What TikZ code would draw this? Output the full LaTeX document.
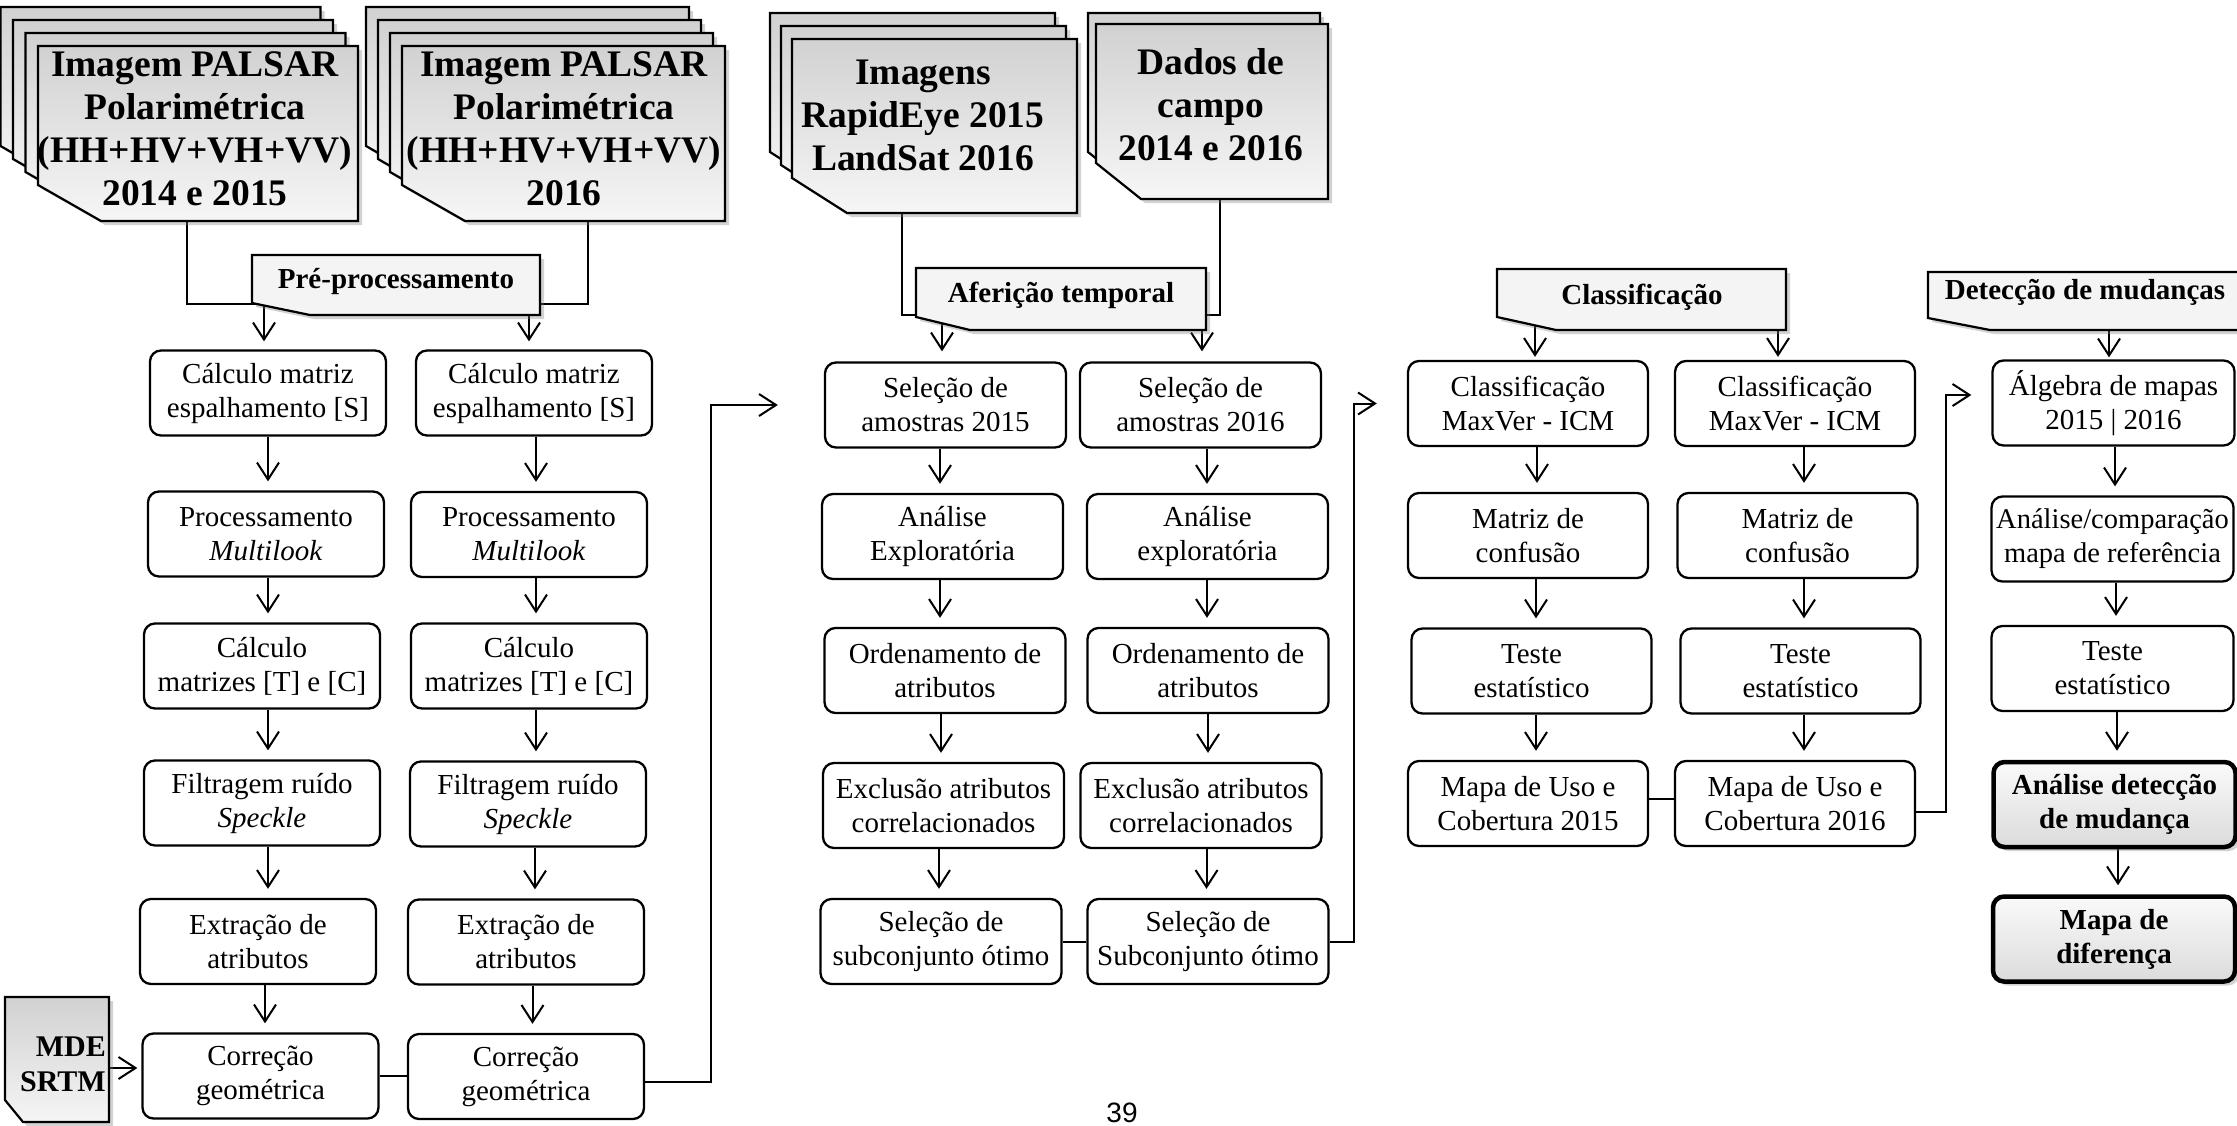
\documentclass[tikz,border=0pt]{standalone}
\usepackage{fontspec}
\setmainfont{Liberation Serif}
\newfontfamily\arialf{Liberation Sans}
\usetikzlibrary{arrows.meta,shadows}
\pgfdeclarelayer{background}
\pgfsetlayers{background,main}
\newcommand{\fReg}{\fontsize{29}{34}\selectfont}
\newcommand{\fHdr}{\fontsize{29}{34}\selectfont\bfseries}
\newcommand{\fBig}{\fontsize{37.5}{43}\selectfont\bfseries}
\newcommand{\fMde}{\fontsize{30}{35}\selectfont\bfseries}
\newcommand{\fPg}{\arialf\fontsize{28}{28}\selectfont}
% card shape: x1,y1,x2,y2,cut width,cut height,style
\newcommand{\card}[7]{\path[#7] (#1,#2) -- (#3,#2) -- (#3,#4) -- ({#1+#5},#4) -- (#1,{#4-#6}) -- cycle;}
\tikzset{
  shd/.style={drop shadow={shadow xshift=4pt, shadow yshift=-4pt, opacity=0.35}},
  sheet/.style={draw, line width=2.2pt, top color=gray!36, bottom color=gray!7, shd},
  hdr/.style={draw, line width=2.2pt, fill=gray!9, shd},
  mdesh/.style={draw, line width=2.2pt, top color=gray!36, bottom color=gray!8, shd},
  txt/.style={inner sep=0pt, align=center},
  bigtxt/.style={txt, font=\fBig},
  hdrtxt/.style={txt, font=\fHdr},
  box/.style={draw, line width=2.3pt, rounded corners=11pt, fill=white, align=center, inner sep=0pt, minimum height=85pt, font=\fReg},
  boxl/.style={box, minimum width=236pt},
  boxa/.style={box, minimum width=241pt},
  boxc/.style={box, minimum width=240pt},
  boxr/.style={box, minimum width=242pt},
  boldbox/.style={boxr, line width=4.5pt, top color=gray!4, bottom color=gray!28, font=\fHdr, shd},
  conn/.style={line width=2pt},
  arr/.style={conn, -{Straight Barb[length=17pt,width=22pt]}, shorten >=9pt},
}
\begin{document}
\begin{tikzpicture}[x=1pt, y=-1pt]
\useasboundingbox (0,0) rectangle (2237,1125);

% ---- stacked sheets ----
\card{0.5}{7}{320.5}{182}{63}{36}{sheet}
\card{13}{20}{333}{195}{63}{36}{sheet}
\card{25.5}{33}{345.5}{208}{63}{36}{sheet}
\card{38}{46}{358}{221}{63}{36}{sheet}

\card{366}{7}{689}{182}{63}{36}{sheet}
\card{378}{20}{701}{195}{63}{36}{sheet}
\card{390}{33}{713}{208}{63}{36}{sheet}
\card{402}{46}{725}{221}{63}{36}{sheet}

\card{770}{13}{1055}{187}{55}{35}{sheet}
\card{781}{26}{1066}{200}{55}{35}{sheet}
\card{792}{39}{1077}{213}{55}{35}{sheet}

\card{1088}{13}{1320}{188}{45}{36}{sheet}
\card{1096}{24}{1328}{199}{45}{36}{sheet}

\card{5}{997}{109}{1122}{18}{22}{mdesh}

% ---- headers ----
\card{252}{255}{540}{315}{58}{12}{hdr}
\card{916}{268}{1206}{330}{54}{13}{hdr}
\card{1497}{269}{1786}{330}{59}{13}{hdr}
\card{1928}{272}{2290}{330}{62}{12}{hdr}

% ---- texts of sheets and headers ----
\node[bigtxt] (p1) at (195,129) {Imagem PALSAR\\Polarimétrica\\(HH+HV+VH+VV)\\2014 e 2015};
\node[bigtxt] (p2) at (564,129) {Imagem PALSAR\\Polarimétrica\\(HH+HV+VH+VV)\\2016};
\node[bigtxt] (im) at (923,115) {Imagens\\RapidEye 2015\\LandSat 2016};
\node[bigtxt] (da) at (1211,105) {Dados de\\campo\\2014 e 2016};
\node[txt, align=right, font=\fMde, anchor=east] (mde) at (106,1064.5) {MDE\\SRTM};

\node[hdrtxt] (pre) at (396,282) {Pré-processamento};
\node[hdrtxt] (af) at (1061,295) {Aferição temporal};
\node[hdrtxt] (cl) at (1642,297) {Classificação};
\node[hdrtxt] (dm) at (2085,292) {Detecção de mudanças};

% ---- left columns ----
\node[boxl] (b11) at (268,393) {Cálculo matriz\\espalhamento [S]};
\node[boxl] (b12) at (266,534) {Processamento\\\textit{Multilook}};
\node[boxl] (b13) at (262,666) {Cálculo\\matrizes [T] e [C]};
\node[boxl] (b14) at (262,803) {Filtragem ruído\\\textit{Speckle}};
\node[boxl] (b15) at (258,941.5) {Extração de\\atributos};
\node[boxl] (b16) at (260.5,1076) {Correção\\geométrica};
\node[boxl] (b21) at (534,393) {Cálculo matriz\\espalhamento [S]};
\node[boxl] (b22) at (529,534.5) {Processamento\\\textit{Multilook}};
\node[boxl] (b23) at (529,666) {Cálculo\\matrizes [T] e [C]};
\node[boxl] (b24) at (528,804) {Filtragem ruído\\\textit{Speckle}};
\node[boxl] (b25) at (526,942) {Extração de\\atributos};
\node[boxl] (b26) at (526,1076.5) {Correção\\geométrica};

% ---- Afericao columns ----
\node[boxa] (a1) at (945.5,405) {Seleção de\\amostras 2015};
\node[boxa] (a2) at (942.5,536.5) {Análise\\Exploratória};
\node[boxa] (a3) at (945,670.5) {Ordenamento de\\atributos};
\node[boxa] (a4) at (943.5,805.5) {Exclusão atributos\\correlacionados};
\node[boxa] (a5) at (941,941.5) {Seleção de\\subconjunto ótimo};
\node[boxa] (c1) at (1200.5,405) {Seleção de\\amostras 2016};
\node[boxa] (c2) at (1207.5,536.5) {Análise\\exploratória};
\node[boxa] (c3) at (1208,670.5) {Ordenamento de\\atributos};
\node[boxa] (c4) at (1201,805.5) {Exclusão atributos\\correlacionados};
\node[boxa] (c5) at (1208,941.5) {Seleção de\\Subconjunto ótimo};

% ---- Classificacao columns ----
\node[boxc] (k1) at (1528,403.5) {Classificação\\MaxVer - ICM};
\node[boxc] (k2) at (1528,535.5) {Matriz de\\confusão};
\node[boxc] (k3) at (1531.5,671) {Teste\\estatístico};
\node[boxc] (k4) at (1528,803.5) {Mapa de Uso e\\Cobertura 2015};
\node[boxc] (l1) at (1795,403.5) {Classificação\\MaxVer - ICM};
\node[boxc] (l2) at (1797.5,535.5) {Matriz de\\confusão};
\node[boxc] (l3) at (1800.5,671) {Teste\\estatístico};
\node[boxc] (l4) at (1795,803.5) {Mapa de Uso e\\Cobertura 2016};

% ---- right column ----
\node[boxr] (r1) at (2113.5,403) {Álgebra de mapas\\2015 | 2016};
\node[boxr, font=\fontsize{28.5}{34}\selectfont] (r2) at (2112.5,539) {Análise/comparação\\mapa de referência};
\node[boxr] (r3) at (2112.5,668.5) {Teste\\estatístico};
\node[boldbox] (r4) at (2114.5,804.5) {Análise detecção\\de mudança};
\node[boldbox] (r5) at (2114,939) {Mapa de\\diferença};

% page number
\node[inner sep=0pt, font=\fPg, anchor=base] (pg) at (1122,1122) {39};

\coordinate (e1) at ([yshift=-5pt]b26.east);
\coordinate (e3) at ([yshift=-8pt]l4.east);
\coordinate (e4) at ([yshift=8pt]r1.west);
\coordinate (e5) at ([yshift=-3.5pt]mde.east);

\begin{pgfonlayer}{background}
\fill[white] (0,0) rectangle (2237,1125);
% sources to headers
\draw[conn] (p1.south -| 187,0) |- (pre.west |- 0,304);
\draw[conn] (p2.south -| 588,0) |- (pre.east |- 0,304);
\draw[conn] (im.south -| 902,0) |- (af.west |- 0,315);
\draw[conn] (da.south -| 1220,0) |- (af.east |- 0,315);
% headers to first boxes
\draw[arr, shorten >=8pt] (pre.south -| 264,0) -- (b11.north -| 264,0);
\draw[arr, shorten >=8pt] (pre.south -| 529,0) -- (b21.north -| 529,0);
\draw[arr, shorten >=10pt] (af.south -| 942,0) -- (a1.north -| 942,0);
\draw[arr, shorten >=10pt] (af.south -| 1202,0) -- (c1.north -| 1202,0);
\draw[arr, shorten >=3pt] (cl.south -| 1535,0) -- (k1.north -| 1535,0);
\draw[arr, shorten >=3pt] (cl.south -| 1778,0) -- (l1.north -| 1778,0);
\draw[arr, shorten >=2pt] (dm.south -| 2109,0) -- (r1.north -| 2109,0);
% left columns
\draw[arr] (b11.south -| 268,0) -- (b12.north -| 268,0);
\draw[arr] (b12.south -| 268,0) -- (b13.north -| 268,0);
\draw[arr] (b13.south -| 268,0) -- (b14.north -| 268,0);
\draw[arr] (b14.south -| 268,0) -- (b15.north -| 268,0);
\draw[arr] (b15.south -| 265,0) -- (b16.north -| 265,0);
\draw[arr] (b21.south -| 536,0) -- (b22.north -| 536,0);
\draw[arr] (b22.south -| 536,0) -- (b23.north -| 536,0);
\draw[arr] (b23.south -| 536,0) -- (b24.north -| 536,0);
\draw[arr] (b24.south -| 535,0) -- (b25.north -| 535,0);
\draw[arr] (b25.south -| 532.5,0) -- (b26.north -| 532.5,0);
% afericao columns
\draw[arr] (a1.south -| 940,0) -- (a2.north -| 940,0);
\draw[arr] (a2.south -| 940,0) -- (a3.north -| 940,0);
\draw[arr] (a3.south -| 941,0) -- (a4.north -| 941,0);
\draw[arr] (a4.south -| 939,0) -- (a5.north -| 939,0);
\draw[arr] (c1.south -| 1207,0) -- (c2.north -| 1207,0);
\draw[arr] (c2.south -| 1207,0) -- (c3.north -| 1207,0);
\draw[arr] (c3.south -| 1208,0) -- (c4.north -| 1208,0);
\draw[arr] (c4.south -| 1206.5,0) -- (c5.north -| 1206.5,0);
% classificacao columns
\draw[arr] (k1.south -| 1537,0) -- (k2.north -| 1537,0);
\draw[arr] (k2.south -| 1536,0) -- (k3.north -| 1536,0);
\draw[arr] (k3.south -| 1536,0) -- (k4.north -| 1536,0);
\draw[arr] (l1.south -| 1804,0) -- (l2.north -| 1804,0);
\draw[arr] (l2.south -| 1804,0) -- (l3.north -| 1804,0);
\draw[arr] (l3.south -| 1804,0) -- (l4.north -| 1804,0);
% right column
\draw[arr] (r1.south -| 2115,0) -- (r2.north -| 2115,0);
\draw[arr] (r2.south -| 2116,0) -- (r3.north -| 2116,0);
\draw[arr] (r3.south -| 2117,0) -- (r4.north -| 2117,0);
\draw[arr] (r4.south -| 2118,0) -- (r5.north -| 2118,0);
% horizontal links
\draw[arr, shorten >=4pt] (e5) -- (e5 -| b16.west);
\draw[conn] (b16.east) -- (b16.east -| b26.west);
\draw[arr, shorten >=46pt] (e1) -- (e1 -| 711,0) |- (a1.west);
\draw[conn] (a5.east) -- (a5.east -| c5.west);
\draw[arr, shorten >=30pt] (c5.east) -- (c5.east -| 1354,0) |- (k1.west);
\draw[conn] ([yshift=5pt]k4.east) -- ([yshift=5pt]l4.west);
\draw[arr, shorten >=20pt] (e3) -- (e3 -| 1946,0) |- (e4);
\end{pgfonlayer}
\end{tikzpicture}
\end{document}
